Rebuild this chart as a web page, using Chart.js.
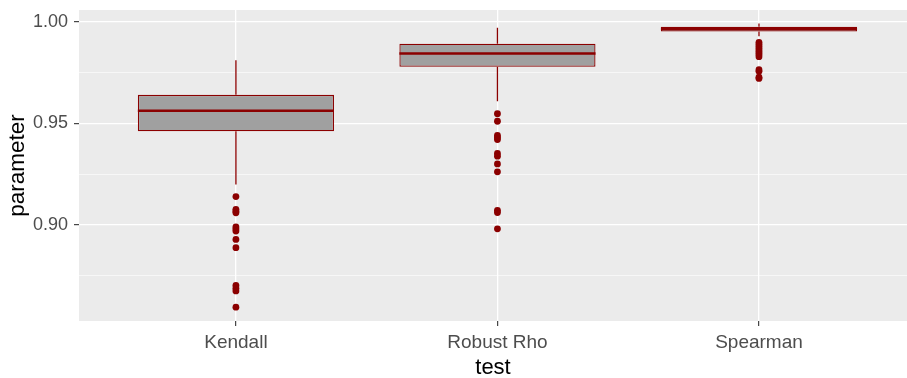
<!DOCTYPE html>
<html>
<head>
<meta charset="utf-8">
<script src="https://cdn.jsdelivr.net/npm/chart.js@4/dist/chart.umd.min.js"></script>
<style>
  html, body { margin: 0; padding: 0; background: #ffffff; overflow: hidden; }
  #wrap { width: 907px; height: 378px; position: relative; }
</style>
</head>
<body>
<div id="wrap"><canvas id="c" width="907" height="378"></canvas></div>
<script>
// ---- data ----
const categories = ["Kendall", "Robust Rho", "Spearman"];
const lowerWhisker = [0.9200, 0.9610, 0.9930];
const q1Values     = [0.9462, 0.9779, 0.9953];
const medianValues = [0.9563, 0.9845, 0.9966];
const q3Values     = [0.9641, 0.9893, 0.9976];
const upperWhisker = [0.9812, 0.9971, 0.9993];
const kendallOutliers   = [0.9140, 0.9077, 0.9068, 0.9060, 0.8990, 0.8980, 0.8970, 0.8929, 0.8888, 0.8702, 0.8688, 0.8675, 0.8595];
const robustOutliers    = [0.9548, 0.9511, 0.9441, 0.9431, 0.9421, 0.9352, 0.9339, 0.9301, 0.9262, 0.9072, 0.9061, 0.8981];
const spearmanOutliers  = [0.9900, 0.9890, 0.9880, 0.9870, 0.9860, 0.9850, 0.9840, 0.9829, 0.9765, 0.9757, 0.9728, 0.9722];
const outlierLists = [kendallOutliers, robustOutliers, spearmanOutliers];
const yMajorTicks = [0.90, 0.95, 1.00];
const yMinorTicks = [0.875, 0.925, 0.975];
const yRange = [0.8527, 1.0059];
const xRange = [0.4, 3.566];

const DARKRED = "#8B0000";
const BOX_HALF = 0.375;

const datasets = [];
// boxes (floating bars)
datasets.push({
  type: "bar",
  data: categories.map((c, i) => ({ x: i + 1, y: [q1Values[i], q3Values[i]] })),
  backgroundColor: "#A0A0A0",
  borderColor: DARKRED,
  borderWidth: 1.3,
  borderSkipped: false,
  barPercentage: 0.75,
  categoryPercentage: 1.0,
  order: 2
});
// whiskers and medians
categories.forEach((c, i) => {
  datasets.push({
    type: "line",
    data: [
      { x: i + 1, y: upperWhisker[i] }, { x: i + 1, y: q3Values[i] },
      { x: i + 1, y: null },
      { x: i + 1, y: q1Values[i] }, { x: i + 1, y: lowerWhisker[i] }
    ],
    borderColor: DARKRED, borderWidth: 1.3, pointRadius: 0, spanGaps: false, fill: false,
    order: 3
  });
  datasets.push({
    type: "line",
    data: [{ x: i + 1 - BOX_HALF, y: medianValues[i] }, { x: i + 1 + BOX_HALF, y: medianValues[i] }],
    borderColor: DARKRED, borderWidth: 2.6, pointRadius: 0, fill: false,
    order: 1
  });
  datasets.push({
    type: "scatter",
    data: outlierLists[i].map(v => ({ x: i + 1, y: v })),
    backgroundColor: DARKRED, borderColor: DARKRED, pointRadius: 3.4, borderWidth: 0,
    order: 0
  });
});

const panelBg = {
  id: "panelBg",
  beforeDraw(chart) {
    const { ctx, chartArea: a } = chart;
    ctx.save();
    ctx.fillStyle = "#EBEBEB";
    ctx.fillRect(a.left, a.top, a.right - a.left, a.bottom - a.top);
    ctx.restore();
  }
};

const allY = yMinorTicks.concat(yMajorTicks).sort((a, b) => a - b);
const isMajor = (v) => yMajorTicks.some(m => Math.abs(m - v) < 1e-9);

new Chart(document.getElementById("c"), {
  data: { datasets },
  plugins: [panelBg],
  options: {
    responsive: false,
    animation: false,
    events: [],
    layout: { autoPadding: false, padding: { left: 0, right: 0, top: 10, bottom: 0 } },
    plugins: { legend: { display: false }, tooltip: { enabled: false } },
    scales: {
      x: {
        type: "linear",
        offset: false,
        min: xRange[0],
        max: xRange[1],
        afterBuildTicks(s) { s.ticks = [1, 2, 3].map(v => ({ value: v })); },
        afterFit(s) { s.height = 57; s.paddingLeft = 0; s.paddingRight = 0; },
        ticks: {
          callback: (v) => categories[Math.round(v) - 1],
          color: "#4D4D4D",
          font: { family: "Liberation Sans, Arial", size: 19 },
          padding: 5,
          maxRotation: 0,
          autoSkip: false
        },
        grid: {
          offset: false,
          color: "#FFFFFF",
          lineWidth: 1.3,
          tickColor: "#333333",
          tickLength: 5,
          tickWidth: 1.1,
          drawTicks: true
        },
        border: { display: false },
        title: {
          display: true, text: "test", color: "#000000",
          font: { family: "Liberation Sans, Arial", size: 22, lineHeight: 1.0 },
          padding: { top: 0, bottom: -1 }
        }
      },
      y: {
        type: "linear",
        min: yRange[0],
        max: yRange[1],
        afterBuildTicks(s) { s.ticks = allY.map(v => ({ value: v })); },
        afterFit(s) { s.width = 79; s.paddingTop = 0; s.paddingBottom = 0; },
        ticks: {
          callback: (v) => (isMajor(v) ? v.toFixed(2) : ""),
          color: "#4D4D4D",
          font: { family: "Liberation Sans, Arial", size: 18 },
          padding: 6,
          autoSkip: false
        },
        grid: {
          color: "#FFFFFF",
          lineWidth: (ctx) => (isMajor(ctx.tick.value) ? 1.3 : 0.6),
          tickColor: (ctx) => (isMajor(ctx.tick.value) ? "#333333" : "rgba(0,0,0,0)"),
          tickLength: 5,
          tickWidth: 1.1
        },
        border: { display: false },
        title: {
          display: true, text: "parameter", color: "#000000",
          font: { family: "Liberation Sans, Arial", size: 22.5 },
          padding: { top: 4, bottom: 0 }
        }
      }
    }
  }
});
</script>
</body>
</html>
